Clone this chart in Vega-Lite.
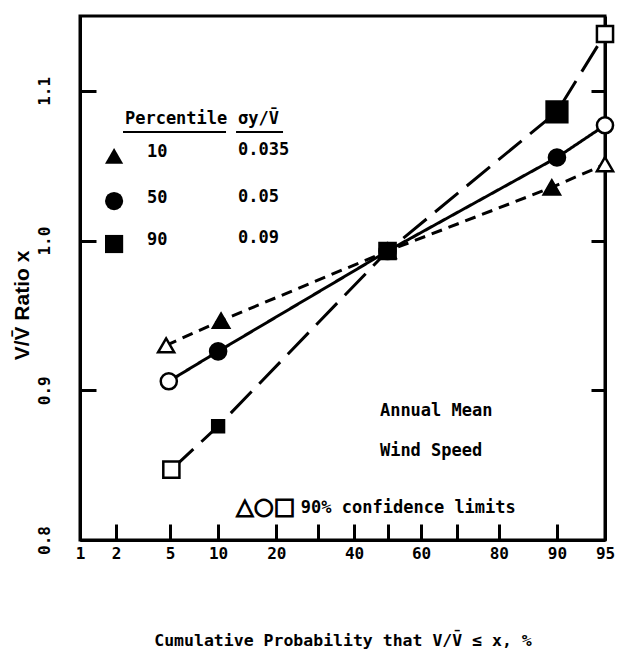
{
  "$schema": "https://vega.github.io/schema/vega-lite/v6.json",
  "width": 525,
  "height": 524,
  "autosize": {"type": "none"},
  "padding": {"left": 80, "top": 16, "right": 16, "bottom": 123},
  "background": "white",
  "view": {"stroke": "black", "strokeWidth": 3},
  "datasets": {
    "pts": [
      {"pct": "10", "p": 4.7, "v": 0.930, "kind": "limit"},
      {"pct": "10", "p": 10.4, "v": 0.9465, "kind": "estimate"},
      {"pct": "10", "p": 50, "v": 0.993, "kind": "estimate"},
      {"pct": "10", "p": 89.3, "v": 1.0355, "kind": "estimate"},
      {"pct": "10", "p": 95, "v": 1.051, "kind": "limit"},
      {"pct": "50", "p": 4.9, "v": 0.906, "kind": "limit"},
      {"pct": "50", "p": 10, "v": 0.926, "kind": "estimate"},
      {"pct": "50", "p": 50, "v": 0.993, "kind": "estimate"},
      {"pct": "50", "p": 90, "v": 1.0555, "kind": "estimate"},
      {"pct": "50", "p": 95, "v": 1.077, "kind": "limit"},
      {"pct": "90", "p": 5.1, "v": 0.847, "kind": "limit"},
      {"pct": "90", "p": 10, "v": 0.876, "kind": "estimate"},
      {"pct": "90", "p": 50, "v": 0.993, "kind": "estimate"},
      {"pct": "90", "p": 90, "v": 1.086, "kind": "estimate"},
      {"pct": "90", "p": 95, "v": 1.138, "kind": "limit"}
    ],
    "legsym": [
      {"pct": "10", "p": 1.93, "v": 1.0565},
      {"pct": "50", "p": 1.93, "v": 1.0264},
      {"pct": "90", "p": 1.93, "v": 0.9977}
    ],
    "underlines": [
      {"p": 2.27, "p2": 11.09, "v": 1.0725},
      {"p": 12.59, "p2": 21.46, "v": 1.0725}
    ],
    "notes": [
      {"t": "Annual Mean", "p": 47.7, "v": 0.886},
      {"t": "Wind Speed", "p": 47.7, "v": 0.8594},
      {"t": "90% confidence limits", "p": 25.6, "v": 0.8213},
      {"t": "10", "p": 3.44, "v": 1.0591},
      {"t": "50", "p": 3.44, "v": 1.0284},
      {"t": "90", "p": 3.44, "v": 1.0004},
      {"t": "0.035", "p": 12.89, "v": 1.0605},
      {"t": "0.05", "p": 12.89, "v": 1.0291},
      {"t": "0.09", "p": 12.89, "v": 1.0017},
      {"t": "Percentile", "p": 2.35, "v": 1.0812},
      {"t": "\u03c3y/V\u0304", "p": 12.89, "v": 1.0812}
    ],
    "symnote": [
      {"t": "\u25b3\u25cb\u25a1", "p": 12.6, "v": 0.8218}
    ]
  },
  "encoding": {
    "x": {
      "field": "z",
      "type": "quantitative",
      "scale": {"domain": [-2.3263, 1.6449], "nice": false, "zero": false},
      "axis": {
        "values": [-2.3263, -2.0537, -1.6449, -1.2816, -0.8416, -0.5244, -0.2533, 0, 0.2533, 0.5244, 0.8416, 1.2816, 1.6449],
        "labelExpr": "(round(cumulativeNormal(datum.value)*100) == 30 || round(cumulativeNormal(datum.value)*100) == 50 || round(cumulativeNormal(datum.value)*100) == 70) ? '' : '' + round(cumulativeNormal(datum.value)*100)",
        "grid": false,
        "tickSize": -16,
        "tickWidth": 3,
        "tickColor": "black",
        "domainColor": "black",
        "domainWidth": 3,
        "labelFont": "DejaVu Sans Mono",
        "labelFontSize": 16,
        "labelFontWeight": "bold",
        "labelColor": "black",
        "labelPadding": 21,
        "labelFlush": false,
        "labelOverlap": false,
        "title": "Cumulative Probability that V/V\u0304 \u2264 x, %",
        "titleFont": "DejaVu Sans Mono",
        "titleFontSize": 16.5,
        "titleFontWeight": "bold",
        "titleColor": "black",
        "titleY": 100,
        "titleBaseline": "middle"
      }
    },
    "y": {
      "field": "v",
      "type": "quantitative",
      "scale": {"domain": [0.8, 1.15], "nice": false, "zero": false},
      "axis": null
    }
  },
  "layer": [
    {
      "data": {"name": "pts"},
      "transform": [
        {"calculate": "quantileNormal(datum.p/100)", "as": "z"},
        {"calculate": "datum.pct", "as": "series"}
      ],
      "mark": {"type": "line", "strokeWidth": 3, "color": "black"},
      "encoding": {
        "y": {
          "field": "v",
          "type": "quantitative",
          "scale": {"domain": [0.8, 1.15], "nice": false, "zero": false},
          "axis": {
            "values": [0.8, 0.9, 1.0, 1.1],
            "format": ".1f",
            "grid": false,
            "tickSize": -16,
            "tickWidth": 3,
            "tickColor": "black",
            "domainColor": "black",
            "domainWidth": 3,
            "labelAngle": 270,
            "labelAlign": "center",
            "labelBaseline": "bottom",
            "labelFont": "DejaVu Sans Mono",
            "labelFontSize": 16,
            "labelFontWeight": "bold",
            "labelColor": "black",
            "labelPadding": 44,
            "labelOverlap": false,
            "labelFlush": false,
            "title": "V/V\u0304 Ratio x",
            "titleFont": "Liberation Sans",
            "titleFontSize": 21,
            "titleFontWeight": "bold",
            "titleColor": "black",
            "titleX": -58,
            "titleY": 289,
            "titleAlign": "center",
            "titleBaseline": "middle"
          }
        },
        "strokeDash": {
          "field": "series",
          "type": "nominal",
          "scale": {"domain": ["10", "50", "90"], "range": [[11, 7], [1, 0], [30, 11]]},
          "legend": null
        },
        "order": {"field": "p", "type": "quantitative"}
      }
    },
    {
      "data": {"name": "pts"},
      "transform": [{"calculate": "quantileNormal(datum.p/100)", "as": "z"}],
      "mark": {"type": "point", "stroke": "black", "strokeWidth": 2.5, "opacity": 1},
      "encoding": {
        "shape": {
          "field": "pct",
          "type": "nominal",
          "scale": {"domain": ["10", "50", "90"], "range": ["triangle-up", "circle", "square"]},
          "legend": null
        },
        "fill": {
          "field": "kind",
          "type": "nominal",
          "scale": {"domain": ["limit", "estimate"], "range": ["white", "black"]},
          "legend": null
        },
        "size": {
          "condition": [
            {"test": "datum.pct == '90' && datum.p == 10", "value": 140},
            {"test": "datum.pct == '90' && datum.p == 90", "value": 430}
          ],
          "value": 260
        }
      }
    },
    {
      "data": {"name": "legsym"},
      "transform": [{"calculate": "quantileNormal(datum.p/100)", "as": "z"}],
      "mark": {"type": "point", "filled": true, "color": "black", "size": 330, "opacity": 1},
      "encoding": {
        "shape": {
          "field": "pct",
          "type": "nominal",
          "scale": {"domain": ["10", "50", "90"], "range": ["triangle-up", "circle", "square"]},
          "legend": null
        }
      }
    },
    {
      "data": {"name": "underlines"},
      "transform": [
        {"calculate": "quantileNormal(datum.p/100)", "as": "z"},
        {"calculate": "quantileNormal(datum.p2/100)", "as": "z2"}
      ],
      "mark": {"type": "rule", "strokeWidth": 2, "color": "black"},
      "encoding": {
        "x2": {"field": "z2"}
      }
    },
    {
      "data": {"name": "notes"},
      "transform": [{"calculate": "quantileNormal(datum.p/100)", "as": "z"}],
      "mark": {"type": "text", "align": "left", "baseline": "middle", "font": "DejaVu Sans Mono", "fontSize": 17, "fontWeight": "bold", "color": "black"},
      "encoding": {
        "text": {"field": "t"}
      }
    },
    {
      "data": {"name": "symnote"},
      "transform": [{"calculate": "quantileNormal(datum.p/100)", "as": "z"}],
      "mark": {"type": "text", "align": "left", "baseline": "middle", "font": "DejaVu Sans", "fontSize": 23, "fontWeight": "bold", "color": "black", "stroke": "black", "strokeWidth": 1.2},
      "encoding": {
        "y": {
          "field": "v",
          "type": "quantitative",
          "scale": {"domain": [0.8, 1.15], "nice": false, "zero": false},
          "axis": {
            "orient": "right",
            "values": [0.9, 1.0, 1.1],
            "labels": false,
            "grid": false,
            "tickSize": -14,
            "tickWidth": 3,
            "tickColor": "black",
            "domainColor": "black",
            "domainWidth": 3,
            "title": null
          }
        },
        "text": {"field": "t"}
      }
    }
  ],
  "resolve": {"axis": {"y": "independent"}}
}
